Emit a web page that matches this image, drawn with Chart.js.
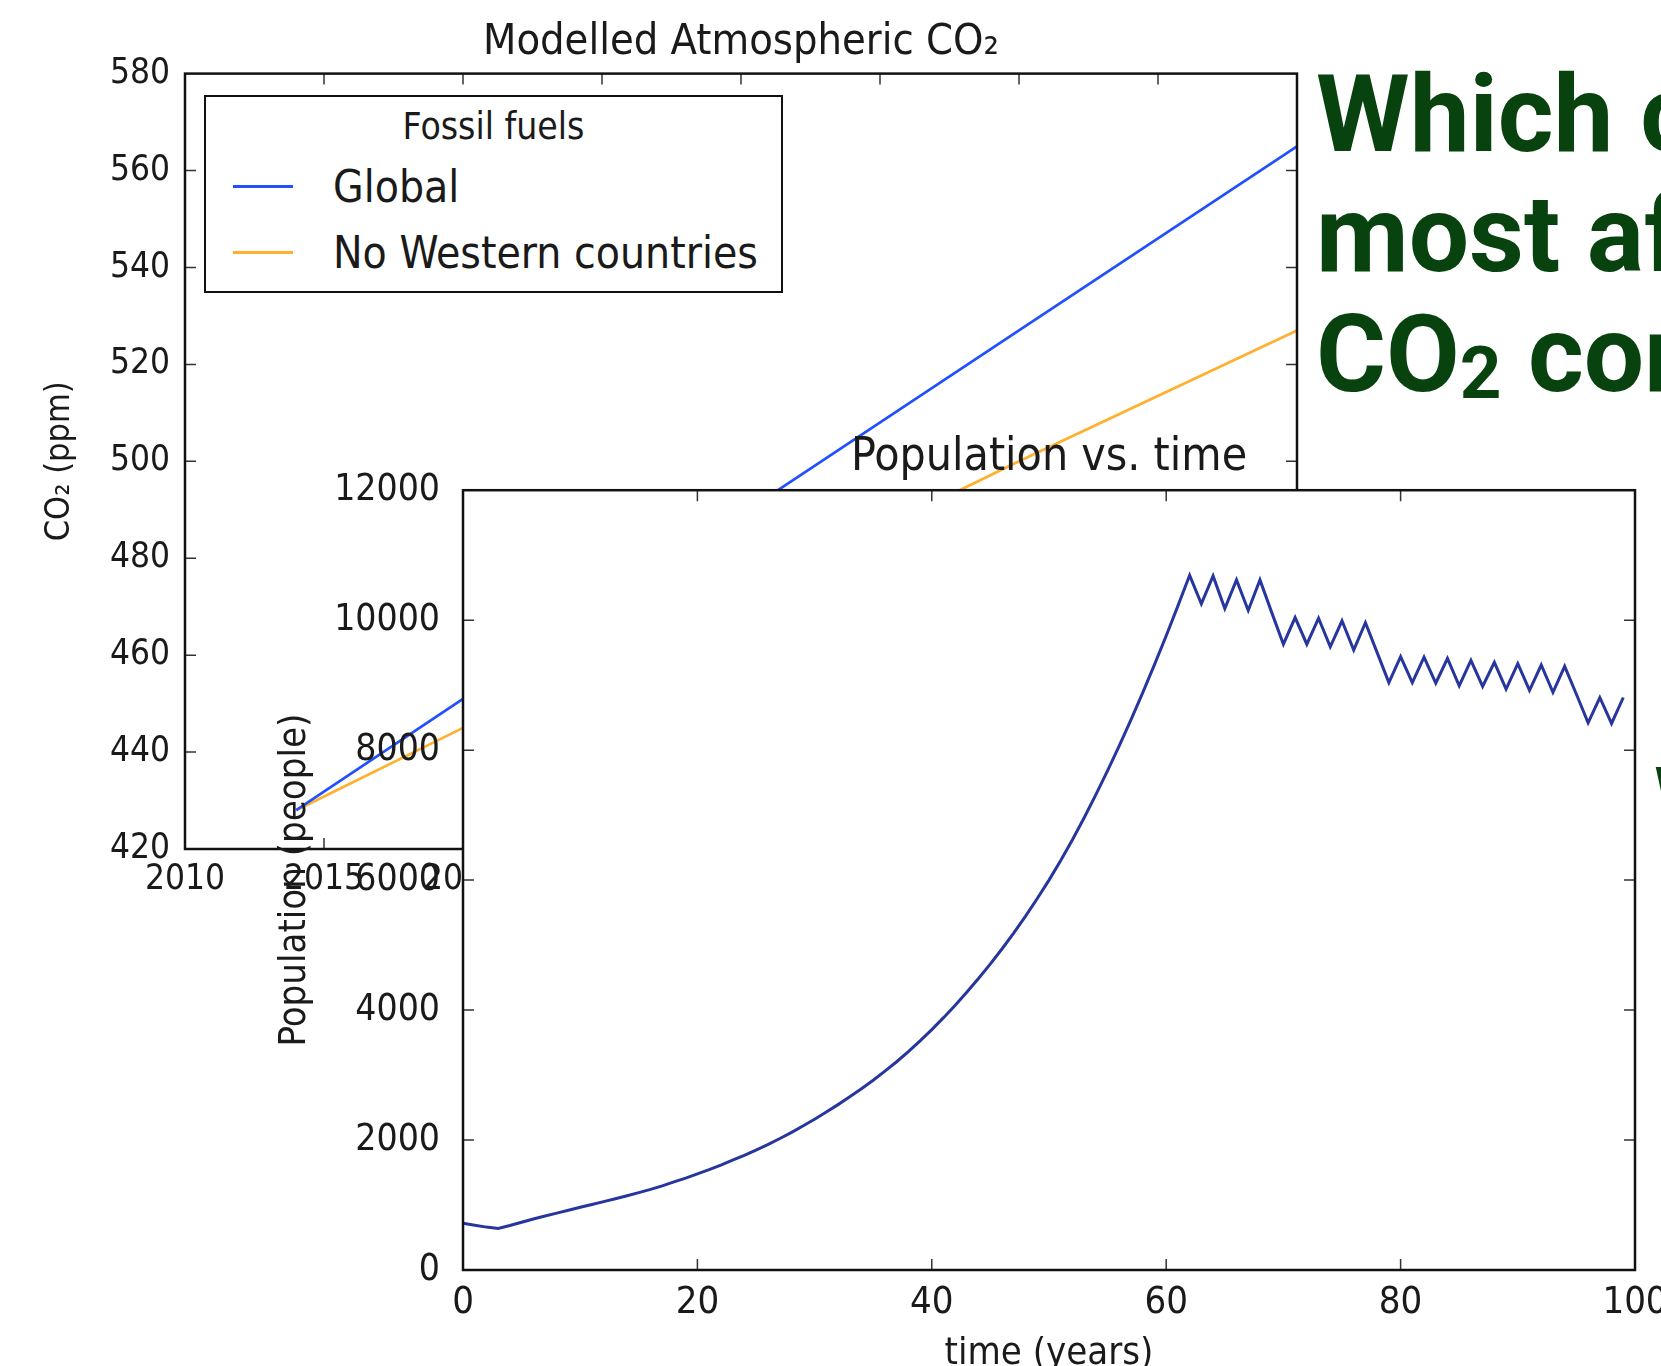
<!DOCTYPE html>
<html>
<head>
<meta charset="utf-8">
<script src="https://cdn.jsdelivr.net/npm/chart.js@4.4.0/dist/chart.umd.min.js"></script>
<style>
  html, body { margin: 0; padding: 0; width: 1661px; height: 1366px; overflow: hidden; background: #fff; }
  canvas { position: absolute; left: 0; top: 0; }
  #legend {
    position: absolute; left: 204px; top: 95px; width: 579px; height: 198px;
    box-sizing: border-box; border: 2.5px solid #111; background: #fff;
    font-family: 'DejaVu Sans Condensed', 'DejaVu Sans', sans-serif; color: #1a1a1a;
  }
  #legend .title { position: absolute; left: 0; top: 10px; width: 100%; text-align: center; font-size: 37px; line-height: 40px; }
  #legend .item { position: absolute; left: 0; height: 60px; display: flex; align-items: center; white-space: nowrap; }
  #legend .swatch { display: inline-block; width: 60px; height: 3px; margin-left: 27px; }
  #legend .lbl { margin-left: 40px; font-size: 44px; }
  #question {
    position: absolute; left: 1316px; top: 55px; white-space: nowrap;
    font-family: Roboto, 'Open Sans', sans-serif; font-weight: 700; font-size: 107px; line-height: 120px; color: #08420f;
  }
  #question sub { font-size: 0.68em; vertical-align: -7px; line-height: 0; }
  #edge {
    position: absolute; left: 1655px; top: 762px;
    font-family: Roboto, sans-serif; font-weight: 700; font-size: 44px; line-height: 44px; color: #08420f;
  }
</style>
</head>
<body>
<canvas id="co2Chart" width="1661" height="1366"></canvas>
<canvas id="popChart" width="1720" height="1400"></canvas>
<div id="legend"><div class="title">Fossil fuels</div></div>
<div id="question">Which country<br>most affects<br>CO<sub>2</sub> concentration?</div>
<div id="edge">W</div>
<script>
// CO2 model
const co2Years = [2014, 2020, 2030, 2040, 2050];
const co2Global = [428, 451, 489, 527, 565];
const co2NoWestern = [428, 445, 472, 500, 527];

// population model, one value per year 0..99
const popYears = [
  0, 1, 2, 3, 4, 5, 6, 7, 8, 9,
  10, 11, 12, 13, 14, 15, 16, 17, 18, 19,
  20, 21, 22, 23, 24, 25, 26, 27, 28, 29,
  30, 31, 32, 33, 34, 35, 36, 37, 38, 39,
  40, 41, 42, 43, 44, 45, 46, 47, 48, 49,
  50, 51, 52, 53, 54, 55, 56, 57, 58, 59,
  60, 61, 62, 63, 64, 65, 66, 67, 68, 69,
  70, 71, 72, 73, 74, 75, 76, 77, 78, 79,
  80, 81, 82, 83, 84, 85, 86, 87, 88, 89,
  90, 91, 92, 93, 94, 95, 96, 97, 98, 99
];
const popValues = [
  720, 690, 660, 640, 685, 735, 785, 830, 875, 920,
  965, 1008, 1052, 1097, 1143, 1190, 1240, 1295, 1355, 1415,
  1480, 1545, 1615, 1690, 1765, 1845, 1930, 2020, 2115, 2215,
  2320, 2430, 2545, 2665, 2790, 2920, 3060, 3205, 3360, 3525,
  3700, 3883, 4075, 4277, 4489, 4711, 4944, 5189, 5446, 5716,
  6000, 6300, 6620, 6960, 7315, 7685, 8070, 8470, 8885, 9315,
  9760, 10220, 10690, 10250, 10680, 10180, 10620, 10150, 10620, 10120,
  9630, 10040, 9630, 10030, 9590, 9990, 9540, 9960, 9500, 9040,
  9440, 9040, 9430, 9030, 9410, 8990, 9380, 8980, 9350, 8940,
  9330, 8920, 9310, 8890, 9290, 8860, 8420, 8810, 8410, 8810
];

const co2Ticks = { xMin: 2010, xMax: 2050, xStep: 5, yMin: 420, yMax: 580, yStep: 20 };
const popTicks = { xMin: 0, xMax: 100, xStep: 20, yMin: 0, yMax: 12000, yStep: 2000 };

Chart.defaults.font.family = "'DejaVu Sans Condensed', 'DejaVu Sans', sans-serif";
Chart.defaults.color = '#1a1a1a';

// matplotlib style box: frame on all sides, ticks pointing inwards
const frameAndTicks = {
  id: 'frameAndTicks',
  beforeDraw(chart, args, opts) {
    if (!opts.fill) return;
    const a = chart.chartArea;
    chart.ctx.save();
    chart.ctx.fillStyle = '#fff';
    chart.ctx.fillRect(a.left, a.top, a.right - a.left, a.bottom - a.top);
    chart.ctx.restore();
  },
  afterDatasetsDraw(chart) {
    const {ctx, chartArea: a, scales} = chart;
    const len = 11;
    ctx.save();
    ctx.strokeStyle = '#333';
    ctx.lineWidth = 1.5;
    ctx.beginPath();
    scales.x.ticks.forEach(t => {
      const px = scales.x.getPixelForValue(t.value);
      if (px <= a.left + 1 || px >= a.right - 1) return;
      ctx.moveTo(px, a.bottom); ctx.lineTo(px, a.bottom - len);
      ctx.moveTo(px, a.top); ctx.lineTo(px, a.top + len);
    });
    scales.y.ticks.forEach(t => {
      const py = scales.y.getPixelForValue(t.value);
      if (py <= a.top + 1 || py >= a.bottom - 1) return;
      ctx.moveTo(a.left, py); ctx.lineTo(a.left + len, py);
      ctx.moveTo(a.right, py); ctx.lineTo(a.right - len, py);
    });
    ctx.stroke();
    ctx.strokeStyle = '#111';
    ctx.lineWidth = 2.5;
    ctx.strokeRect(a.left, a.top, a.right - a.left, a.bottom - a.top);
    ctx.restore();
  }
};

function toPoints(xs, ys) {
  return xs.map((x, i) => ({x: x, y: ys[i]}));
}

const co2Chart = new Chart(document.getElementById('co2Chart'), {
  type: 'line',
  data: {
    datasets: [
      { label: 'Global', data: toPoints(co2Years, co2Global), borderColor: '#2150ff', borderWidth: 2.7, pointRadius: 0, tension: 0 },
      { label: 'No Western countries', data: toPoints(co2Years, co2NoWestern), borderColor: '#ffb02e', borderWidth: 2.7, pointRadius: 0, tension: 0 }
    ]
  },
  options: {
    responsive: false,
    animation: false,
    layout: { padding: { left: 0, top: 0, right: 364, bottom: 0 } },
    plugins: {
      legend: { display: false },
      tooltip: { enabled: false },
      title: {
        display: true, text: 'Modelled Atmospheric CO₂', fullSize: false,
        font: { size: 43, weight: 'normal' }, padding: { top: 17, bottom: 5 }
      },
      frameAndTicks: { fill: false }
    },
    scales: {
      x: {
        type: 'linear', min: co2Ticks.xMin, max: co2Ticks.xMax,
        grid: { display: false, drawTicks: false }, border: { display: false },
        ticks: { stepSize: co2Ticks.xStep, padding: 10, font: { size: 35 }, maxRotation: 0, autoSkip: false, callback: v => String(v) },
        afterFit: s => { s.height = 1366 - 849; }
      },
      y: {
        min: co2Ticks.yMin, max: co2Ticks.yMax,
        grid: { display: false, drawTicks: false }, border: { display: false },
        ticks: { stepSize: co2Ticks.yStep, padding: 15, font: { size: 35 }, callback: v => String(v) },
        title: { display: true, text: 'CO₂ (ppm)', font: { size: 34 }, padding: { top: 40, bottom: 0 } },
        afterFit: s => { s.width = 185; }
      }
    }
  },
  plugins: [frameAndTicks]
});

const popChart = new Chart(document.getElementById('popChart'), {
  type: 'line',
  data: {
    datasets: [
      { label: 'Population', data: toPoints(popYears, popValues), borderColor: '#26369e', borderWidth: 3, pointRadius: 0, tension: 0 }
    ]
  },
  options: {
    responsive: false,
    animation: false,
    layout: { padding: { left: 0, top: 0, right: 85, bottom: 0 } },
    plugins: {
      legend: { display: false },
      tooltip: { enabled: false },
      title: {
        display: true, text: 'Population vs. time', fullSize: false,
        font: { size: 46, weight: 'normal' }, padding: { top: 430, bottom: 5 }
      },
      frameAndTicks: { fill: true }
    },
    scales: {
      x: {
        type: 'linear', min: popTicks.xMin, max: popTicks.xMax,
        grid: { display: false, drawTicks: false }, border: { display: false },
        ticks: { stepSize: popTicks.xStep, padding: 10, font: { size: 38 }, maxRotation: 0, autoSkip: false, callback: v => String(v) },
        title: { display: true, text: 'time (years)', font: { size: 38 }, padding: { top: 0, bottom: 23 } },
        afterFit: s => { s.height = 1400 - 1270; }
      },
      y: {
        min: popTicks.yMin, max: popTicks.yMax,
        grid: { display: false, drawTicks: false }, border: { display: false },
        ticks: { stepSize: popTicks.yStep, padding: 23, font: { size: 37 }, callback: v => String(v) },
        title: { display: true, text: 'Population (people)', font: { size: 38 }, padding: { top: 272, bottom: 0 } },
        afterFit: s => { s.width = 463; }
      }
    }
  },
  plugins: [frameAndTicks]
});

// html legend for the CO2 chart, built from its datasets
const legendBox = document.getElementById('legend');
co2Chart.data.datasets.forEach((ds, i) => {
  const row = document.createElement('div');
  row.className = 'item';
  row.style.top = (59 + i * 66) + 'px';
  row.innerHTML = '<span class="swatch" style="background:' + ds.borderColor + '"></span><span class="lbl">' + ds.label + '</span>';
  legendBox.appendChild(row);
});
</script>
</body>
</html>
